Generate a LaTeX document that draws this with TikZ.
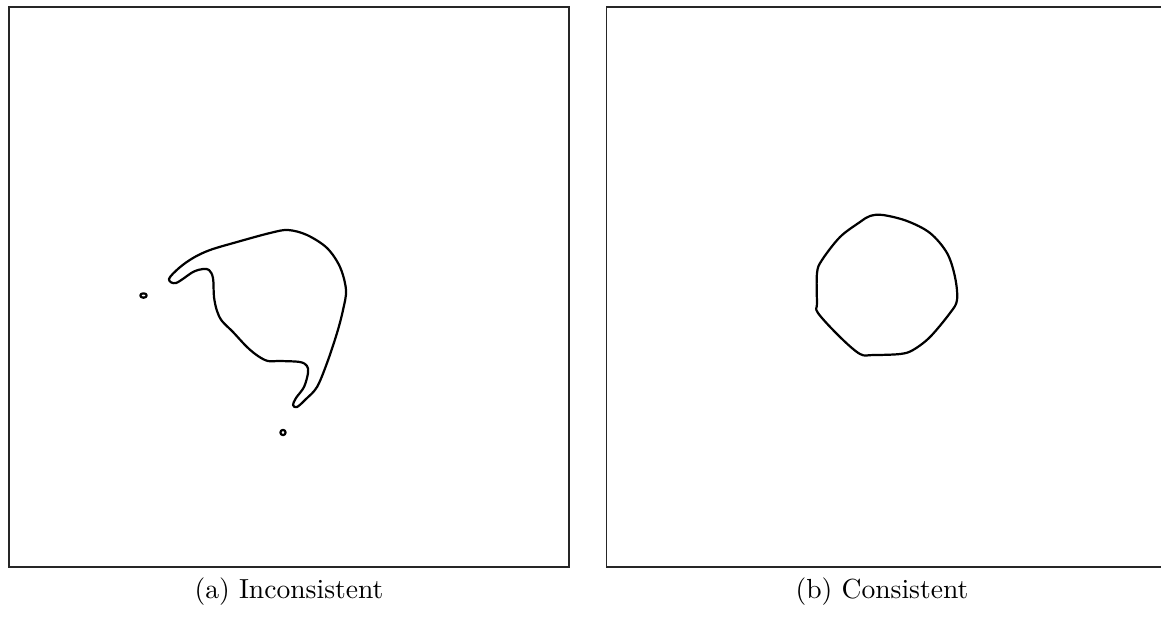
\documentclass[tikz,border=0pt]{standalone}
\begin{document}
\begin{tikzpicture}[x=0.3623pt,y=-0.3623pt,
  frame/.style={draw=black!85,line width=0.55pt},
  contour/.style={draw=black,line width=0.8pt,line join=round},
  captext/.style={font=\fontsize{10}{12}\selectfont,anchor=base}]
\useasboundingbox (0,0) rectangle (1161,617);
% frames
\draw[frame] (9,7) rectangle (569,567);
\draw[frame] (1170,567) -- (606.5,567) -- (606.5,7) -- (1170,7);
% left contour
\draw[contour] plot[smooth cycle,tension=0.55] coordinates {
 (169,279) (179,268) (193,258) (210,250) (237,242) (270,233) (288,230)
 (307,235) (327,248) (340,267) (346,290) (343,310) (337,333) (327,363)
 (317,387) (306,399) (297,407) (293,405) (296,398) (304,387) (308,373)
 (307,366) (300,362) (280,361) (268,361) (258,356) (247,347) (233,332) (222,321)
 (217,311) (214,297) (213,278) (209,270) (203,269) (193,272) (176,283)};
\draw[contour] (143.5,295.5) ellipse (3.2 and 2.2);
\draw[contour] (283,432.5) circle (2.6);
% right contour
\draw[contour] plot[smooth cycle,tension=0.55] coordinates {
 (870,216) (883,215) (907,221) (930,233) (947,253) (955,277) (957,300)
 (950,313) (930,337) (913,350) (900,354) (873,355) (860,354) (840,337)
 (818,313) (817,303) (817,273) (822,260) (840,237) (860,222)};
% captions
\node[captext] (ca) at (289,598) {(a) Inconsistent};
\node[captext] (cb) at (882,598) {(b) Consistent};
\end{tikzpicture}
\end{document}
